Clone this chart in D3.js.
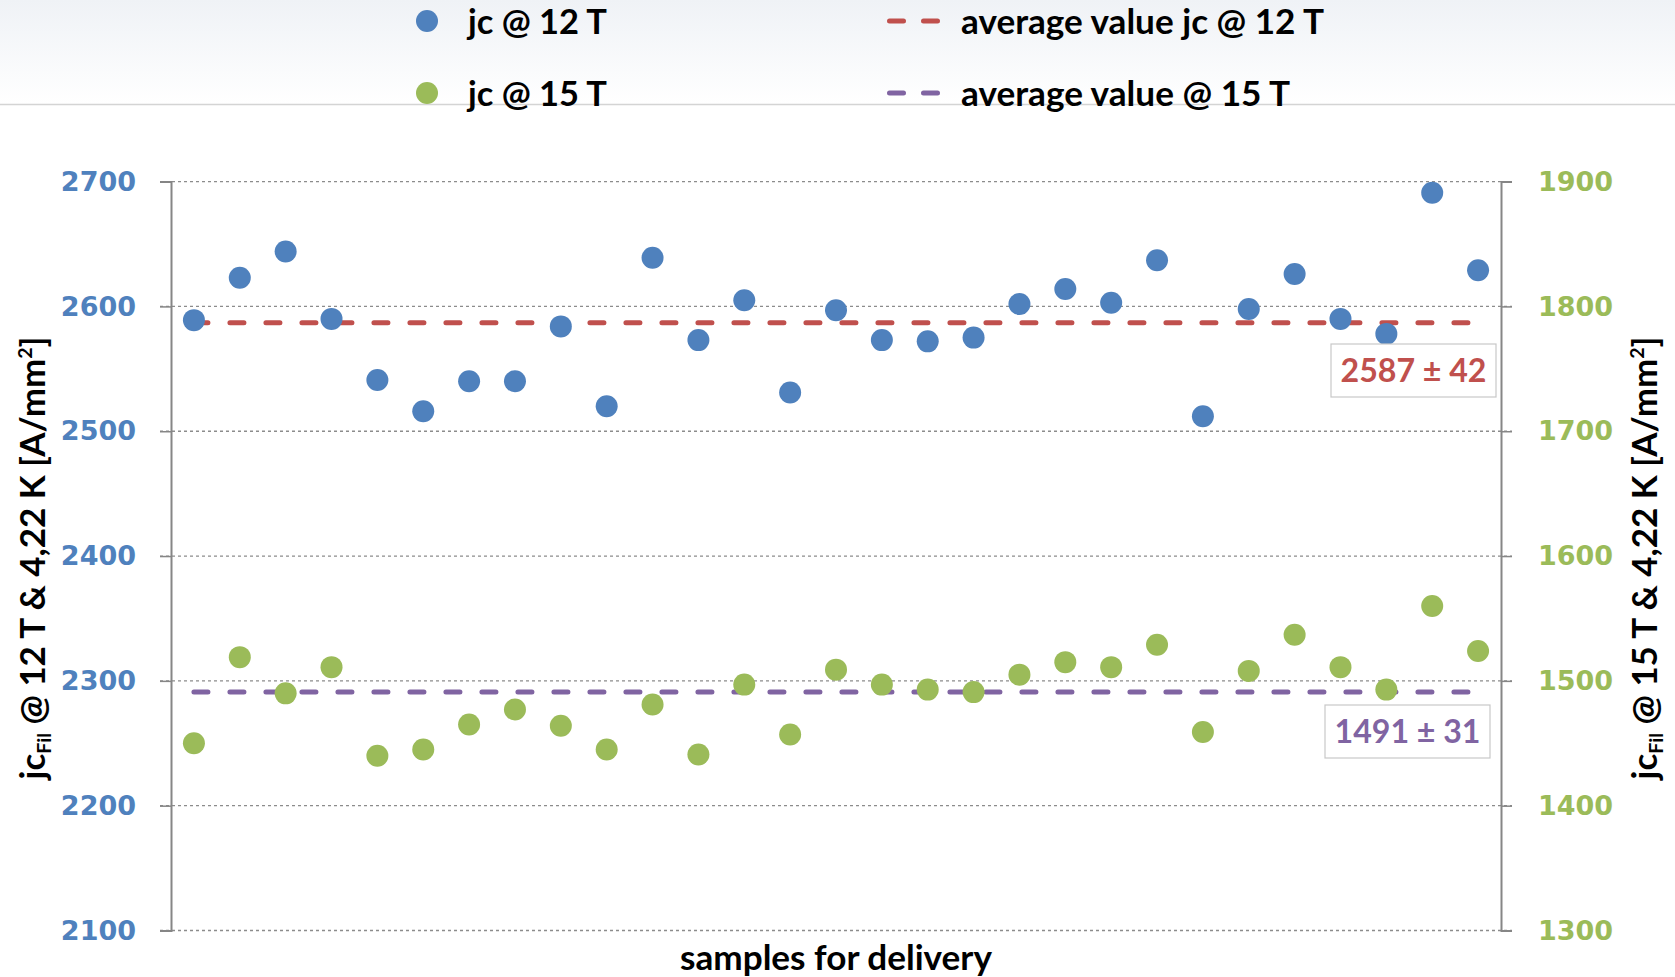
<!DOCTYPE html>
<html>
<head>
<meta charset="utf-8">
<script src="https://cdn.jsdelivr.net/npm/d3@7"></script>
<style>
  body { margin: 0; background: #fff; }
  svg { display: block; }
</style>
</head>
<body>
<script>
const width = 1675;
const height = 977;

// 29 samples for delivery
const samples = d3.range(1, 30);

// jc @ 12 T (left axis) and jc @ 15 T (right axis), A/mm²
const jc12 = [2589, 2623, 2644, 2590, 2541, 2516, 2540, 2540, 2584, 2520,
              2639, 2573, 2605, 2531, 2597, 2573, 2572, 2575, 2602, 2614,
              2603, 2637, 2512, 2598, 2626, 2590, 2578, 2691, 2629];
const jc15 = [1450, 1519, 1490, 1511, 1440, 1445, 1465, 1477, 1464, 1445,
              1481, 1441, 1497, 1457, 1509, 1497, 1493, 1491, 1505, 1515,
              1511, 1529, 1459, 1508, 1537, 1511, 1493, 1560, 1524];

const avg12 = 2587, sd12 = 42;
const avg15 = 1491, sd15 = 31;

const leftTicks = [2100, 2200, 2300, 2400, 2500, 2600, 2700];
const rightTicks = [1300, 1400, 1500, 1600, 1700, 1800, 1900];

const blue = "#4f81bd", green = "#9bbb59", red = "#c0504d", purple = "#8064a2";
const labelFont = "Lato, 'Open Sans', sans-serif";
const tickFont = "'DejaVu Sans', Verdana, sans-serif";

let margin = {top: 181.6, right: 174, bottom: 46.5, left: 171};

let svg = d3.select("body").append("svg")
    .attr("width", width)
    .attr("height", height);

// Legend band with light gradient
let defs = svg.append("defs");
let grad = defs.append("linearGradient").attr("id", "legendBg")
    .attr("x1", 0).attr("y1", 0).attr("x2", 0).attr("y2", 1);
grad.append("stop").attr("offset", "0%").attr("stop-color", "#eff2f6");
grad.append("stop").attr("offset", "100%").attr("stop-color", "#ffffff");
svg.append("rect").attr("x", 0).attr("y", 0).attr("width", width).attr("height", 104)
    .attr("fill", "url(#legendBg)");
svg.append("line").attr("x1", 0).attr("x2", width).attr("y1", 104.5).attr("y2", 104.5)
    .attr("stroke", "#d4d4d4").attr("stroke-width", 1.5);

// Scales
let x = d3.scaleBand()
    .domain(samples)
    .range([margin.left, width - margin.right]);
let yLeft = d3.scaleLinear()
    .domain([2100, 2700])
    .range([height - margin.bottom, margin.top]);
let yRight = d3.scaleLinear()
    .domain([1300, 1900])
    .range([height - margin.bottom, margin.top]);
let cx = d => x(d) + x.bandwidth() / 2;

// Grid (dashed) including the outer tick marks
svg.append("g")
    .selectAll("line")
    .data(leftTicks)
    .join("line")
    .attr("x1", margin.left - 11)
    .attr("x2", width - margin.right + 11)
    .attr("y1", d => yLeft(d))
    .attr("y2", d => yLeft(d))
    .attr("stroke", "#8c8c8c")
    .attr("stroke-width", 1.3)
    .attr("stroke-dasharray", "3,3");

// Left axis
let leftAxis = d3.axisLeft(yLeft).tickValues(leftTicks).tickFormat(d3.format("d"))
    .tickSize(11).tickPadding(24);
let leftG = svg.append("g").attr("transform", `translate(${margin.left},0)`).call(leftAxis);
leftG.select(".domain").attr("stroke", "#868686").attr("stroke-width", 2);
leftG.selectAll(".tick line").attr("stroke", "#868686").attr("stroke-width", 1.5);
leftG.selectAll(".tick text")
    .attr("fill", blue)
    .style("font-family", tickFont)
    .style("font-weight", "bold")
    .style("font-size", "27px");

// Right axis
let rightAxis = d3.axisRight(yRight).tickValues(rightTicks).tickFormat(d3.format("d"))
    .tickSize(11).tickPadding(26);
let rightG = svg.append("g").attr("transform", `translate(${width - margin.right},0)`).call(rightAxis);
rightG.select(".domain").attr("stroke", "#868686").attr("stroke-width", 2);
rightG.selectAll(".tick line").attr("stroke", "#868686").attr("stroke-width", 1.5);
rightG.selectAll(".tick text")
    .attr("fill", green)
    .style("font-family", tickFont)
    .style("font-weight", "bold")
    .style("font-size", "27px");

// Average lines
let dash = {width: 5, array: "14,22"};
svg.append("line")
    .attr("x1", cx(samples[0])).attr("x2", cx(samples[samples.length - 1]))
    .attr("y1", yLeft(avg12)).attr("y2", yLeft(avg12))
    .attr("stroke", red).attr("stroke-width", dash.width)
    .attr("stroke-linecap", "round").attr("stroke-dasharray", dash.array);
svg.append("line")
    .attr("x1", cx(samples[0])).attr("x2", cx(samples[samples.length - 1]))
    .attr("y1", yRight(avg15)).attr("y2", yRight(avg15))
    .attr("stroke", purple).attr("stroke-width", dash.width)
    .attr("stroke-linecap", "round").attr("stroke-dasharray", dash.array);

// Points
svg.append("g")
    .selectAll("circle")
    .data(samples)
    .join("circle")
    .attr("cx", d => cx(d))
    .attr("cy", (d, i) => yLeft(jc12[i]))
    .attr("r", 11)
    .attr("fill", blue);
svg.append("g")
    .selectAll("circle")
    .data(samples)
    .join("circle")
    .attr("cx", d => cx(d))
    .attr("cy", (d, i) => yRight(jc15[i]))
    .attr("r", 11)
    .attr("fill", green);

// Average value boxes
function valueBox(bx, by, bw, bh, label, color) {
    svg.append("rect")
        .attr("x", bx).attr("y", by).attr("width", bw).attr("height", bh)
        .attr("fill", "#fff").attr("stroke", "#c8c8c8").attr("stroke-width", 1.2);
    svg.append("text")
        .attr("x", bx + bw / 2).attr("y", by + bh / 2 + 11)
        .attr("text-anchor", "middle")
        .attr("fill", color)
        .style("font-family", labelFont)
        .style("font-weight", "bold")
        .style("font-size", "32px")
        .attr("textLength", 146)
        .attr("lengthAdjust", "spacingAndGlyphs")
        .text(label);
}
valueBox(1331, 344, 165, 53, `${avg12} ± ${sd12}`, red);
valueBox(1325, 705, 165, 53, `${avg15} ± ${sd15}`, purple);

// Legend
let legend = svg.append("g")
    .style("font-family", labelFont)
    .style("font-weight", "bold")
    .style("font-size", "34px")
    .attr("fill", "#000");
let legendRows = [
    {y: 21, color: blue, text: "jc @ 12 T", dashColor: red, dashText: "average value jc @ 12 T", len: 363},
    {y: 93, color: green, text: "jc @ 15 T", dashColor: purple, dashText: "average value @ 15 T", len: 329}
];
legendRows.forEach(r => {
    legend.append("circle").attr("cx", 427).attr("cy", r.y).attr("r", 11).attr("fill", r.color);
    legend.append("text").attr("x", 468).attr("y", r.y + 13)
        .attr("textLength", 139).attr("lengthAdjust", "spacingAndGlyphs")
        .text(r.text);
    legend.append("line")
        .attr("x1", 889.5).attr("x2", 937.5).attr("y1", r.y).attr("y2", r.y)
        .attr("stroke", r.dashColor).attr("stroke-width", dash.width)
        .attr("stroke-linecap", "round").attr("stroke-dasharray", "14,20");
    legend.append("text").attr("x", 961).attr("y", r.y + 13)
        .attr("textLength", r.len).attr("lengthAdjust", "spacingAndGlyphs")
        .text(r.dashText);
});

// Axis titles
function axisTitle(tx, field) {
    let t = svg.append("text")
        .attr("transform", `translate(${tx},558) rotate(-90)`)
        .attr("text-anchor", "middle")
        .style("font-family", labelFont)
        .style("font-weight", "bold")
        .style("font-size", "34px")
        .attr("textLength", 443)
        .attr("lengthAdjust", "spacingAndGlyphs");
    t.append("tspan").text("jc");
    t.append("tspan").attr("dy", 6).style("font-size", "19px").text("Fil");
    t.append("tspan").attr("dy", -6).text(` @ ${field} & 4,22 K [A/mm`);
    t.append("tspan").attr("dy", -13).style("font-size", "19px").text("2");
    t.append("tspan").attr("dy", 13).text("]");
}
axisTitle(45, "12 T");
axisTitle(1657, "15 T");

svg.append("text")
    .attr("x", (margin.left + width - margin.right) / 2)
    .attr("y", 970)
    .attr("text-anchor", "middle")
    .style("font-family", labelFont)
    .style("font-weight", "bold")
    .style("font-size", "34px")
    .attr("textLength", 312)
    .attr("lengthAdjust", "spacingAndGlyphs")
    .text("samples for delivery");
</script>
</body>
</html>
